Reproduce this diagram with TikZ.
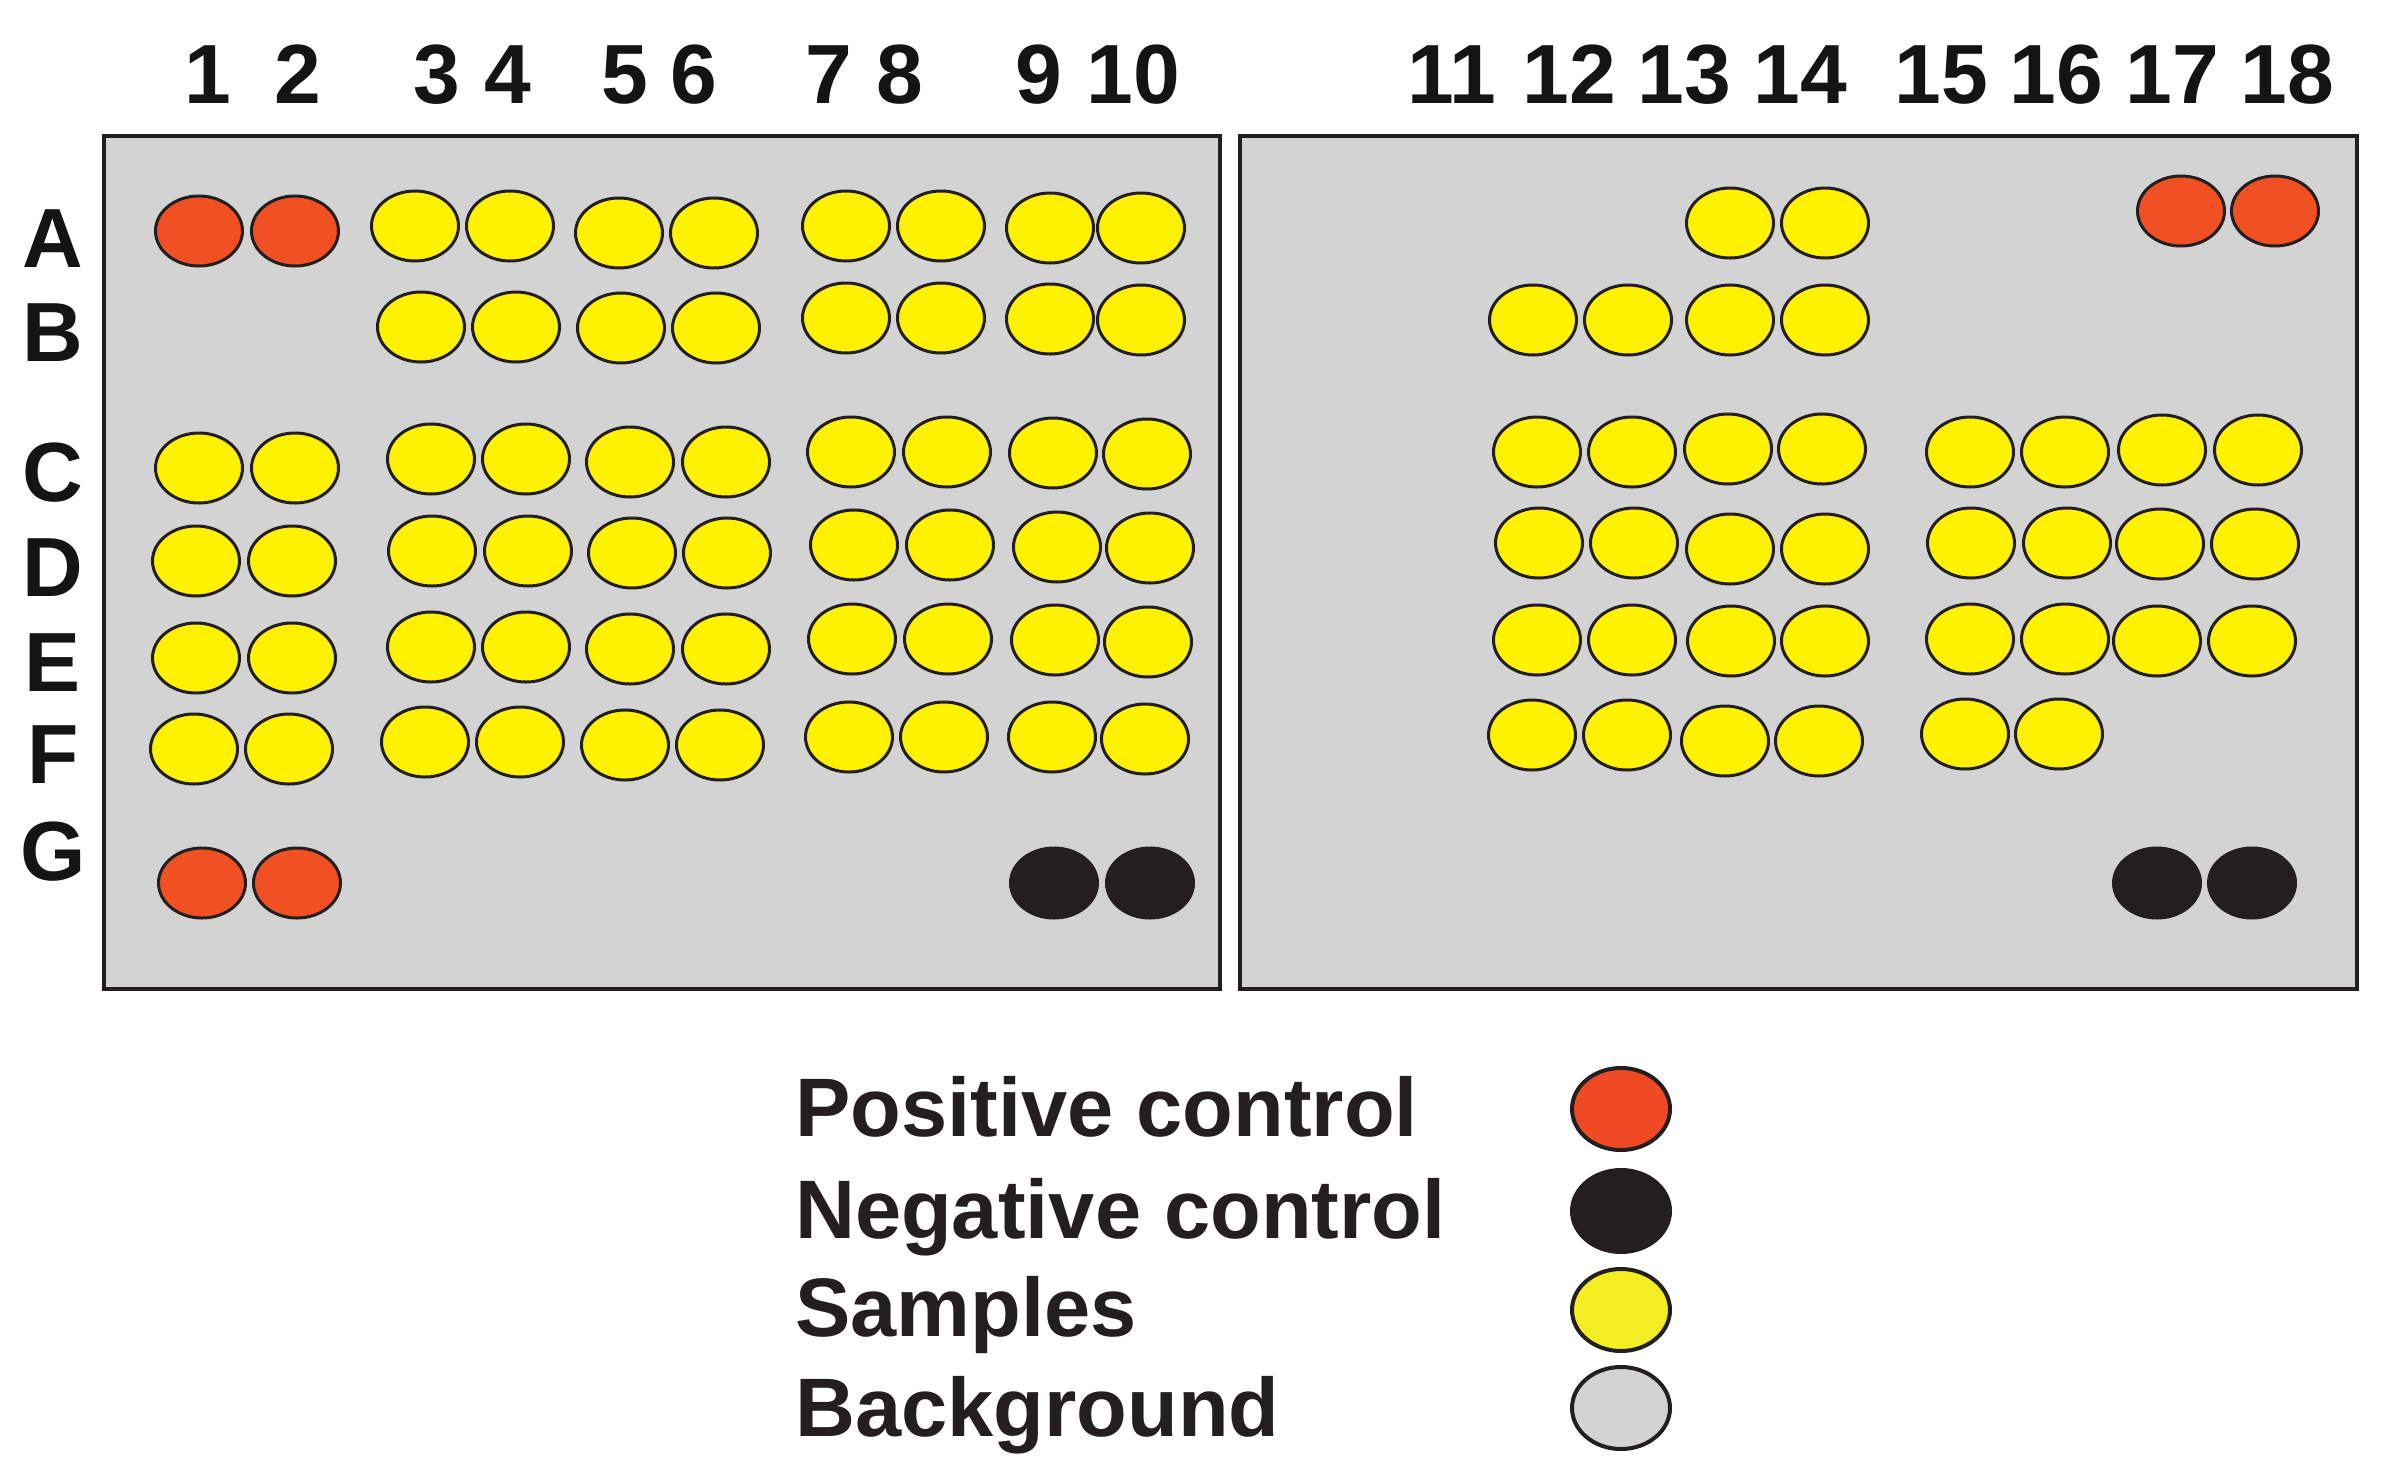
\documentclass[tikz,border=0pt]{standalone}
\usepackage{fontspec}
\setmainfont{Liberation Sans}
\usetikzlibrary{shapes.geometric}
\definecolor{redc}{HTML}{F15022}
\definecolor{redl}{HTML}{EF4A24}
\definecolor{yelc}{HTML}{FFF200}
\definecolor{yell}{HTML}{F2EE21}
\definecolor{blkc}{HTML}{231F20}
\definecolor{grayc}{HTML}{D3D3D3}
\definecolor{txtc}{HTML}{141414}
\tikzset{
  well/.style={ellipse, draw=blkc, line width=3pt, minimum width=87pt, minimum height=70pt, inner sep=0pt},
  wellpos/.style={well, fill=redc},
  wellneg/.style={well, fill=blkc},
  wellsmp/.style={well, fill=yelc},
  panel/.style={rectangle, draw=blkc, line width=4pt, fill=grayc, inner sep=0pt},
  collab/.style={anchor=base, inner sep=0pt, text=txtc, font=\bfseries\fontsize{84}{100}\selectfont},
  legtext/.style={anchor=base west, inner sep=0pt, text=blkc, font=\bfseries\fontsize{83}{100}\selectfont},
  legdot/.style={ellipse, draw=blkc, line width=4pt, minimum width=98pt, minimum height=82pt, inner sep=0pt}
}
\begin{document}
\begin{tikzpicture}[x=1pt,y=-1pt]
\useasboundingbox[fill=white] (0,0) rectangle (2391,1476);
% panels
\node[panel, minimum width=1116pt, minimum height=853pt] (leftpanel) at (662,562) {};
\node[panel, minimum width=1117pt, minimum height=853pt] (rightpanel) at (1798.5,562) {};
% column labels
\foreach \t/\x in {1/208,2/298,3/437,4/508,5/625,6/694,7/829,8/900,9/1039,10/1133,
  11/1452,12/1569,13/1684,14/1800,15/1941,16/2056,17/2172,18/2287}
  \node[collab] (col\t) at (\x,103) {\t};
% row labels
\foreach \t/\y in {A/267,B/361,C/501,D/596,E/691,F/783,G/880}
  \node[collab] (row\t) at (53,\y) {\t};
% left plate wells
\foreach \n/\x/\y/\s in {
  A1/199/231/wellpos, A2/295/231/wellpos, A3/415/226/wellsmp, A4/510/226/wellsmp, A5/619/233/wellsmp, A6/714/233/wellsmp, A7/846/226/wellsmp, A8/941/226/wellsmp, A9/1050/228/wellsmp, A10/1141/228/wellsmp,
  B3/421/327/wellsmp, B4/516/327/wellsmp, B5/621/328/wellsmp, B6/716/328/wellsmp, B7/846/318/wellsmp, B8/941/318/wellsmp, B9/1050/319/wellsmp, B10/1141/320/wellsmp,
  C1/199/468/wellsmp, C2/295/468/wellsmp, C3/431/459/wellsmp, C4/526/459/wellsmp, C5/630/462/wellsmp, C6/726/462/wellsmp, C7/851/452/wellsmp, C8/947/452/wellsmp, C9/1053/453/wellsmp, C10/1147/454/wellsmp,
  D1/196/561/wellsmp, D2/292/561/wellsmp, D3/432/551/wellsmp, D4/528/551/wellsmp, D5/632/553/wellsmp, D6/727/553/wellsmp, D7/854/545/wellsmp, D8/950/545/wellsmp, D9/1057/547/wellsmp, D10/1150/548/wellsmp,
  E1/196/658/wellsmp, E2/292/658/wellsmp, E3/431/647/wellsmp, E4/526/647/wellsmp, E5/630/649/wellsmp, E6/726/649/wellsmp, E7/852/639/wellsmp, E8/948/639/wellsmp, E9/1055/640/wellsmp, E10/1148/642/wellsmp,
  F1/194/749/wellsmp, F2/289/749/wellsmp, F3/425/742/wellsmp, F4/520/742/wellsmp, F5/625/745/wellsmp, F6/720/745/wellsmp, F7/849/737/wellsmp, F8/944/737/wellsmp, F9/1052/737/wellsmp, F10/1145/739/wellsmp,
  G1/202/883/wellpos, G2/297/883/wellpos, G9/1054/883/wellneg, G10/1150/883/wellneg}
  \node[\s] (w\n) at (\x,\y) {};
% right plate wells
\foreach \n/\x/\y/\s in {
  A13/1730/223/wellsmp, A14/1825/223/wellsmp, A17/2181/211/wellpos, A18/2275/211/wellpos,
  B11/1533/320/wellsmp, B12/1628/320/wellsmp, B13/1730/320/wellsmp, B14/1825/320/wellsmp,
  C11/1537/452/wellsmp, C12/1632/452/wellsmp, C13/1728/449/wellsmp, C14/1822/449/wellsmp, C15/1970/452/wellsmp, C16/2065/452/wellsmp, C17/2162/450/wellsmp, C18/2258/450/wellsmp,
  D11/1539/543/wellsmp, D12/1634/543/wellsmp, D13/1730/549/wellsmp, D14/1825/549/wellsmp, D15/1971/543/wellsmp, D16/2067/543/wellsmp, D17/2160/544/wellsmp, D18/2255/544/wellsmp,
  E11/1537/640/wellsmp, E12/1632/640/wellsmp, E13/1731/641/wellsmp, E14/1825/641/wellsmp, E15/1970/639/wellsmp, E16/2065/639/wellsmp, E17/2157/641/wellsmp, E18/2252/641/wellsmp,
  F11/1532/735/wellsmp, F12/1627/735/wellsmp, F13/1725/741/wellsmp, F14/1819/741/wellsmp, F15/1965/734/wellsmp, F16/2059/734/wellsmp,
  G17/2157/883/wellneg, G18/2252/883/wellneg}
  \node[\s] (w\n) at (\x,\y) {};
% legend
\node[legtext] (legpostext) at (795,1136) {Positive control};
\node[legtext] (legnegtext) at (795,1238) {Negative control};
\node[legtext] (legsmptext) at (795,1336) {Samples};
\node[legtext] (legbgtext)  at (795,1436) {Background};
\node[legdot, fill=redl]  (legposdot) at (1621,1109) {};
\node[legdot, fill=blkc]  (legnegdot) at (1621,1211) {};
\node[legdot, fill=yell]  (legsmpdot) at (1621,1310) {};
\node[legdot, fill=grayc] (legbgdot)  at (1621,1408) {};
\end{tikzpicture}
\end{document}
